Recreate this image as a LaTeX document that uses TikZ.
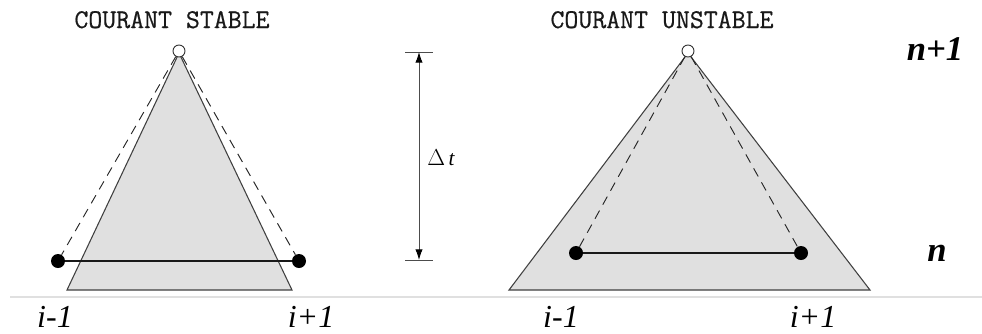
\documentclass[tikz,border=0pt]{standalone}
\usepackage{fontspec}
\setmainfont{Liberation Serif}
\newfontfamily\titlefont[FakeBold=0.6]{Latin Modern Mono}
\usetikzlibrary{arrows.meta}
\begin{document}
\begin{tikzpicture}[x=0.75pt,y=-0.75pt,
  tri/.style={fill=black!12, draw=black!75, line width=0.8pt},
  dot/.style={circle, fill=black, inner sep=0pt, minimum size=10.5pt},
  opencirc/.style={circle, draw=black!80, fill=white, line width=0.7pt, inner sep=0pt, minimum size=9pt},
  dashline/.style={dashed, dash pattern=on 7pt off 5pt, line width=0.7pt, black!85},
  stencil/.style={line width=1.6pt, black!90},
  title/.style={font=\titlefont\fontsize{20.3}{23}\selectfont, text=black!90, anchor=base},
  idx/.style={font=\itshape\fontsize{24}{28}\selectfont, anchor=base},
  lev/.style={font=\bfseries\itshape\fontsize{26}{30}\selectfont, anchor=base},
  dim/.style={draw=black!70, line width=0.7pt}]
\useasboundingbox (0,0) rectangle (982,333);
% separator
\draw[black!12, line width=1.2pt] (10,297) -- (982,297);
% titles
\node[title] (t1) at (172,28) {COURANT STABLE};
\node[title] (t2) at (662,28) {COURANT UNSTABLE};
% left triangle
\coordinate (LA) at (179,53);
\coordinate (LB1) at (67,290);
\coordinate (LB2) at (292,290);
\draw[tri] (LA) -- (LB1) -- (LB2) -- cycle;
\node[dot] (L1) at (58,261) {};
\node[dot] (L2) at (299,261) {};
\node[opencirc] (LT) at (179,51) {};
\draw[dashline] (LT) -- (L1);
\draw[dashline] (LT) -- (L2);
\draw[stencil] (L1) -- (L2);
% right triangle
\coordinate (RA) at (688,53);
\coordinate (RB1) at (509,290);
\coordinate (RB2) at (870,290);
\draw[tri] (RA) -- (RB1) -- (RB2) -- cycle;
\node[dot] (R1) at (576,253) {};
\node[dot] (R2) at (801,253) {};
\node[opencirc] (RT) at (688,51) {};
\draw[dashline] (RT) -- (R1);
\draw[dashline] (RT) -- (R2);
\draw[stencil] (R1) -- (R2);
% dimension
\coordinate (DT) at (419,52);
\coordinate (DB) at (419,260);
\coordinate (DT1) at (405,52);
\coordinate (DT2) at (433,52);
\coordinate (DB1) at (405,260);
\coordinate (DB2) at (433,260);
\draw[dim] (DT1) -- (DT2);
\draw[dim] (DB1) -- (DB2);
\draw[dim, {Latex[length=8pt,width=5.5pt,black]}-{Latex[length=8pt,width=5.5pt,black]}] (DT) -- (DB);
\node[font=\fontsize{16}{18}\selectfont, anchor=west, inner sep=0pt] (dtl) at (427,158) {$\Delta$\,\textit{t}};
% index labels
\node[idx] (im1L) at (55,327) {i-1};
\node[idx] (ip1L) at (311,327) {i+1};
\node[idx] (im1R) at (561,327) {i-1};
\node[idx] (ip1R) at (813,327) {i+1};
% level labels
\node[lev] (np1) at (935,60) {n+1};
\node[lev] (nn) at (937,261) {n};
\end{tikzpicture}
\end{document}
